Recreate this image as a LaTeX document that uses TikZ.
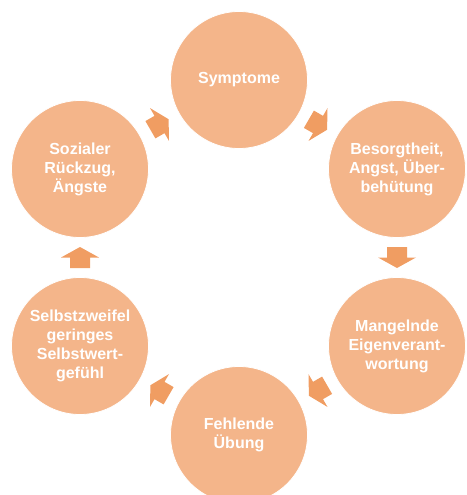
\documentclass[tikz,border=0pt]{standalone}
\usepackage{fontspec}
\setmainfont{Liberation Sans}
\usetikzlibrary{calc}
\definecolor{circfill}{RGB}{244,181,138}
\definecolor{arrfill}{RGB}{240,157,98}
\tikzset{
  stage/.style={circle, fill=circfill, draw=white, line width=0.8pt, minimum size=137pt, inner sep=0pt,
    text=white, align=center, font=\fontsize{16}{19}\selectfont\bfseries},
  blockarrow/.style={fill=arrfill, draw=none}
}
\newcommand{\cyclearrow}[2]{%
  \path[blockarrow, shift={(#1)}, rotate=#2]
    (-10.5,-10) -- (0,-10) -- (0,-19) -- (10.5,0) -- (0,19) -- (0,10) -- (-10.5,10) -- cycle;}
\begin{document}
\begin{tikzpicture}[x=1pt,y=-1pt]
\useasboundingbox (0,0) rectangle (466,495);
\node[stage] (S) at (239,80) {Symptome};
\node[stage] (B) at (397,169) {Besorgtheit,\\Angst, Über-\\behütung};
\node[stage] (M) at (397,346) {Mangelnde\\Eigenverant-\\wortung};
\node[stage] (F) at (239,435) {Fehlende\\Übung};
\node[stage] (Z) at (80,346) {Selbstzweifel\\geringes\\Selbstwert-\\gefühl};
\node[stage] (R) at (80,169) {Sozialer\\Rückzug,\\Ängste};
\coordinate (a1) at ($(S)!0.5!(B)$);
\coordinate (a2) at ($(B)!0.5!(M)$);
\coordinate (a3) at ($(M)!0.5!(F)$);
\coordinate (a4) at ($(F)!0.5!(Z)$);
\coordinate (a5) at ($(Z)!0.5!(R)$);
\coordinate (a6) at ($(R)!0.5!(S)$);
\cyclearrow{a1}{-30}
\cyclearrow{a2}{-90}
\cyclearrow{a3}{210}
\cyclearrow{a4}{150}
\cyclearrow{a5}{90}
\cyclearrow{a6}{30}
\end{tikzpicture}
\end{document}
